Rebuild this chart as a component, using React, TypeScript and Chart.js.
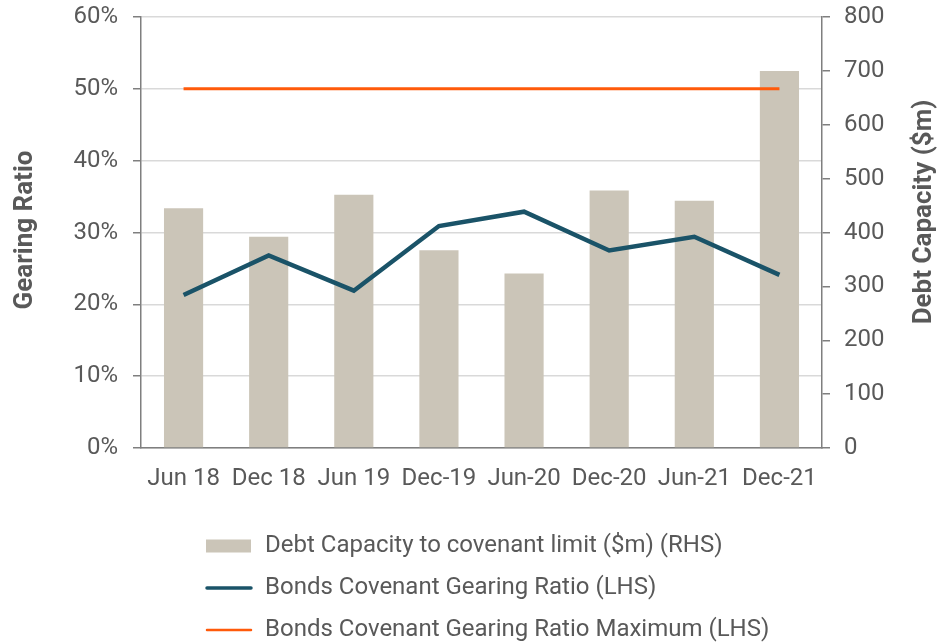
import React, { useEffect, useRef } from "react";
import { Chart, registerables } from "chart.js";

Chart.register(...registerables);

const categories = ["Jun 18", "Dec 18", "Jun 19", "Dec-19", "Jun-20", "Dec-20", "Jun-21", "Dec-21"];
const debtCapacity = [445, 392, 470, 367, 324, 478, 459, 700];
const gearingRatio = [21.3, 26.8, 21.9, 30.9, 32.9, 27.5, 29.4, 24.1];
const gearingMax = [50, 50, 50, 50, 50, 50, 50, 50];
const leftTicks = [0, 10, 20, 30, 40, 50, 60];
const rightTicks = [0, 100, 200, 300, 400, 500, 600, 700, 800];

const seriesNames = [
  "Debt Capacity to covenant limit ($m) (RHS)",
  "Bonds Covenant Gearing Ratio (LHS)",
  "Bonds Covenant Gearing Ratio Maximum (LHS)",
];

const BAR_COLOR = "#cbc5b8";
const LINE_COLOR = "#1a5368";
const MAX_COLOR = "#ff5a0a";
const TEXT = "#595959";
const AXIS = "#7f7f7f";
const GRID = "#d9d9d9";
const FONT = "Roboto";

const decorPlugin = {
  id: "decor",
  afterDraw(chart: any) {
    const ctx = chart.ctx as CanvasRenderingContext2D;
    ctx.save();
    ctx.fillStyle = TEXT;
    ctx.font = `bold 26px ${FONT}`;
    ctx.textAlign = "center";
    ctx.textBaseline = "middle";
    ctx.save();
    ctx.translate(25, 230);
    ctx.rotate(-Math.PI / 2);
    ctx.fillText("Gearing Ratio", 0, 0);
    ctx.restore();
    ctx.save();
    ctx.translate(924, 212);
    ctx.rotate(-Math.PI / 2);
    ctx.fillText("Debt Capacity ($m)", 0, 0);
    ctx.restore();

    // legend
    const rows = [546, 588, 630];
    const x0 = 206;
    const x1 = 251;
    ctx.fillStyle = BAR_COLOR;
    ctx.fillRect(x0, rows[0] - 6.5, x1 - x0, 13);
    ctx.lineCap = "round";
    ctx.strokeStyle = LINE_COLOR;
    ctx.lineWidth = 3.5;
    ctx.beginPath();
    ctx.moveTo(x0 + 1, rows[1]);
    ctx.lineTo(x1, rows[1]);
    ctx.stroke();
    ctx.strokeStyle = MAX_COLOR;
    ctx.lineWidth = 2.5;
    ctx.beginPath();
    ctx.moveTo(x0 + 1, rows[2]);
    ctx.lineTo(x1, rows[2]);
    ctx.stroke();
    ctx.fillStyle = TEXT;
    ctx.font = `24px ${FONT}`;
    ctx.textAlign = "left";
    ctx.textBaseline = "middle";
    seriesNames.forEach((n, i) => ctx.fillText(n, 265, rows[i]));
    ctx.restore();
  },
};

export default function App() {
  const ref = useRef<HTMLCanvasElement | null>(null);
  useEffect(() => {
    if (!ref.current) return;
    Chart.defaults.font.family = FONT;
    const chart = new Chart(ref.current, {
      type: "bar",
      data: {
        labels: categories,
        datasets: [
          {
            type: "line",
            label: seriesNames[2],
            data: gearingMax,
            yAxisID: "y",
            borderColor: MAX_COLOR,
            borderWidth: 3,
            pointRadius: 0,
            order: 0,
          } as any,
          {
            type: "line",
            label: seriesNames[1],
            data: gearingRatio,
            yAxisID: "y",
            borderColor: LINE_COLOR,
            borderWidth: 4.5,
            pointRadius: 0,
            borderJoinStyle: "miter",
            order: 1,
          } as any,
          {
            type: "bar",
            label: seriesNames[0],
            data: debtCapacity,
            yAxisID: "y1",
            backgroundColor: BAR_COLOR,
            barPercentage: 0.46,
            categoryPercentage: 1,
            order: 2,
          } as any,
        ],
      },
      options: {
        animation: false,
        responsive: true,
        maintainAspectRatio: false,
        layout: { padding: { top: 17, left: 0, right: 0, bottom: 0 } },
        plugins: { legend: { display: false }, tooltip: { enabled: false } },
        scales: {
          x: {
            position: "bottom",
            grid: { display: false },
            border: { display: true, color: AXIS, width: 1.5 },
            ticks: { color: TEXT, font: { size: 24, family: FONT }, padding: 9, maxRotation: 0 },
            afterFit: (s: any) => {
              s.height = 196;
              s.paddingLeft = 0;
              s.paddingRight = 0;
            },
          },
          y: {
            position: "left",
            min: 0,
            max: 60,
            afterBuildTicks: (s: any) => {
              s.ticks = leftTicks.map((v) => ({ value: v }));
            },
            grid: { color: GRID, lineWidth: 1.5, tickLength: 8, tickColor: AXIS },
            border: { display: true, color: AXIS, width: 1.5 },
            ticks: {
              color: TEXT,
              font: { size: 24, family: FONT },
              padding: 15,
              callback: (v: any) => `${v}%`,
            },
            afterFit: (s: any) => {
              s.width = 141;
              s.paddingTop = 0;
              s.paddingBottom = 0;
            },
          },
          y1: {
            position: "right",
            min: 0,
            max: 800,
            afterBuildTicks: (s: any) => {
              s.ticks = rightTicks.map((v) => ({ value: v }));
            },
            grid: { drawOnChartArea: false, tickLength: 8, tickColor: AXIS, lineWidth: 1.5 },
            border: { display: true, color: AXIS, width: 1.5 },
            ticks: { color: TEXT, font: { size: 24, family: FONT }, padding: 14 },
            afterFit: (s: any) => {
              s.width = 117;
              s.paddingTop = 0;
              s.paddingBottom = 0;
            },
          },
        },
      },
      plugins: [decorPlugin],
    });
    return () => chart.destroy();
  }, []);
  return (
    <div style={{ position: "fixed", left: 0, top: 0, width: 939, height: 644, background: "#fff" }}>
      <canvas ref={ref} />
    </div>
  );
}
